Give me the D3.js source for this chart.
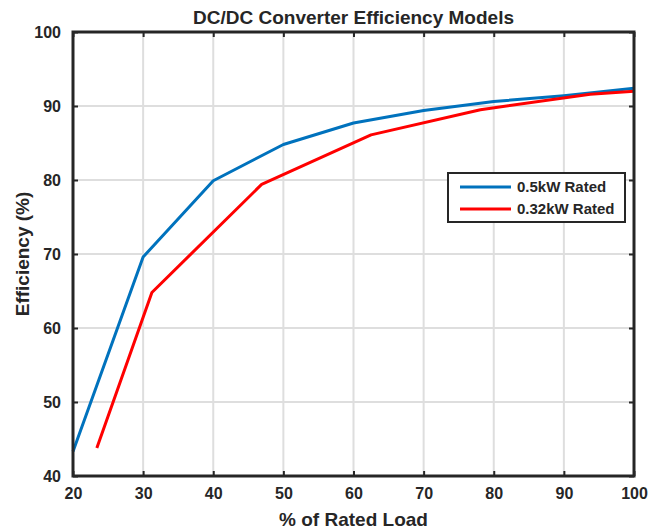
<!DOCTYPE html>
<html>
<head>
<meta charset="utf-8">
<script src="https://cdn.jsdelivr.net/npm/d3@7"></script>
<style>
  body { margin: 0; background: #fff; }
  text { font-family: "Liberation Sans", Arial, sans-serif; font-weight: bold; fill: #262626; }
</style>
</head>
<body>
<svg id="chart" width="661" height="529"></svg>
<script>
const width = 661, height = 529;
const margin = {top: 32, right: 27, bottom: 53, left: 73};

// 0.5kW rated model
const loadA = [20, 30, 40, 50, 60, 70, 80, 90, 100];
const effA = [43.3, 69.6, 79.9, 84.8, 87.7, 89.4, 90.6, 91.4, 92.4];
// 0.32kW rated model
const loadB = [23.4, 31.25, 46.9, 62.5, 78.1, 93.75, 100];
const effB = [43.8, 64.8, 79.4, 86.1, 89.5, 91.6, 92.0];

const xTicks = [20, 30, 40, 50, 60, 70, 80, 90, 100];
const yTicks = [40, 50, 60, 70, 80, 90, 100];

const series = [
  {name: "0.5kW Rated", color: "#0072BD", x: loadA, y: effA},
  {name: "0.32kW Rated", color: "#FF0000", x: loadB, y: effB}
];

const x = d3.scaleLinear().domain([20, 100]).range([margin.left, width - margin.right]);
const y = d3.scaleLinear().domain([40, 100]).range([height - margin.bottom, margin.top]);

const svg = d3.select("#chart");

// grid
svg.append("g")
  .selectAll("line")
  .data(xTicks.slice(1, -1))
  .join("line")
  .attr("x1", d => x(d)).attr("x2", d => x(d))
  .attr("y1", y(40)).attr("y2", y(100))
  .attr("stroke", "#dedede").attr("stroke-width", 2);

svg.append("g")
  .selectAll("line")
  .data(yTicks.slice(1, -1))
  .join("line")
  .attr("y1", d => y(d)).attr("y2", d => y(d))
  .attr("x1", x(20)).attr("x2", x(100))
  .attr("stroke", "#dedede").attr("stroke-width", 2);

// lines
const line = d3.line().x(d => x(d[0])).y(d => y(d[1]));
svg.append("g")
  .selectAll("path")
  .data(series)
  .join("path")
  .attr("d", s => line(s.x.map((v, i) => [v, s.y[i]])))
  .attr("fill", "none")
  .attr("stroke", s => s.color)
  .attr("stroke-width", 3)
  .attr("stroke-linejoin", "round");

// axes, ticks inward on all four sides
const tickLen = 5;
const axisStyle = g => g.call(g => g.select(".domain").remove())
  .call(g => g.selectAll(".tick line").attr("stroke", "#262626").attr("stroke-width", 2));

svg.append("g")
  .attr("transform", `translate(0,${y(40)})`)
  .call(d3.axisBottom(x).tickValues(xTicks).tickSizeInner(-tickLen).tickSizeOuter(0).tickPadding(12))
  .call(axisStyle)
  .call(g => g.selectAll("text").attr("font-size", 16));

svg.append("g")
  .attr("transform", `translate(0,${y(100)})`)
  .call(d3.axisTop(x).tickValues(xTicks).tickSizeInner(-tickLen).tickSizeOuter(0).tickFormat(""))
  .call(axisStyle);

svg.append("g")
  .attr("transform", `translate(${x(20)},0)`)
  .call(d3.axisLeft(y).tickValues(yTicks).tickSizeInner(-tickLen).tickSizeOuter(0).tickPadding(12))
  .call(axisStyle)
  .call(g => g.selectAll("text").attr("font-size", 16));

svg.append("g")
  .attr("transform", `translate(${x(100)},0)`)
  .call(d3.axisRight(y).tickValues(yTicks).tickSizeInner(-tickLen).tickSizeOuter(0).tickFormat(""))
  .call(axisStyle);

svg.append("rect")
  .attr("x", x(20)).attr("y", y(100))
  .attr("width", x(100) - x(20)).attr("height", y(40) - y(100))
  .attr("fill", "none").attr("stroke", "#262626").attr("stroke-width", 3);

// title and labels
svg.append("text")
  .attr("x", (x(20) + x(100)) / 2).attr("y", 24)
  .attr("text-anchor", "middle").attr("font-size", 19)
  .attr("fill", "#000")
  .text("DC/DC Converter Efficiency Models");

svg.append("text")
  .attr("x", (x(20) + x(100)) / 2).attr("y", 526)
  .attr("text-anchor", "middle").attr("font-size", 19)
  .text("% of Rated Load");

svg.append("text")
  .attr("transform", `translate(29,${(y(40) + y(100)) / 2}) rotate(-90)`)
  .attr("text-anchor", "middle").attr("font-size", 19)
  .text("Efficiency (%)");

// legend
const legend = svg.append("g").attr("transform", "translate(448,173)");
legend.append("rect")
  .attr("width", 177).attr("height", 49)
  .attr("fill", "#fff").attr("stroke", "#262626").attr("stroke-width", 2);
const item = legend.selectAll("g.item")
  .data(series)
  .join("g")
  .attr("class", "item")
  .attr("transform", (d, i) => `translate(0,${14 + i * 22})`);
item.append("line")
  .attr("x1", 12).attr("x2", 63)
  .attr("stroke", d => d.color).attr("stroke-width", 3);
item.append("text")
  .attr("x", 69).attr("dy", "0.35em").attr("font-size", 15)
  .attr("fill", "#000")
  .text(d => d.name);
</script>
</body>
</html>
